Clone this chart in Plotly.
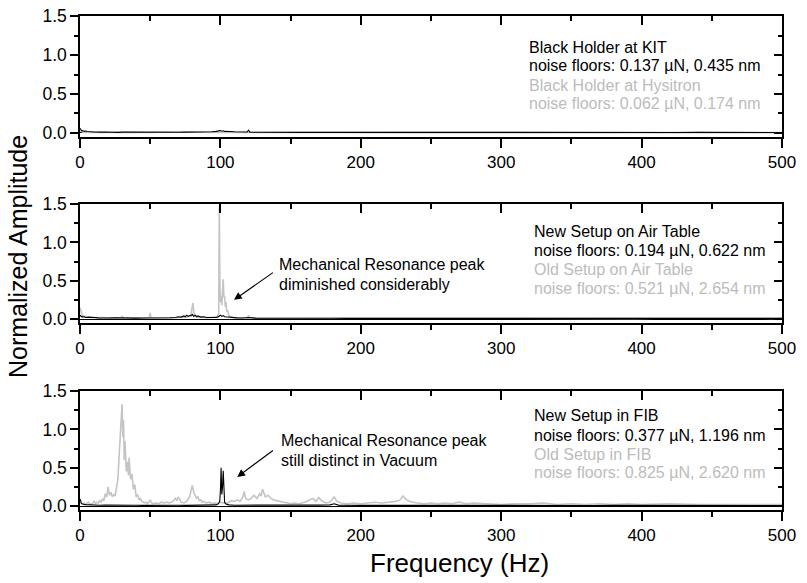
import plotly.graph_objects as go

# ---------------- data ----------------
# Panel 1: Black holder
freq_kit = [0, 0.5, 1, 1.5, 2, 3, 4, 5, 6, 8, 10, 12, 15, 18, 21, 24, 27, 30, 35, 40,
            45, 50, 55, 60, 65, 70, 75, 80, 85, 90, 94, 97, 99, 100, 101, 102, 103, 105, 107, 110,
            114, 117, 119, 120, 121, 123, 127, 132, 140, 150, 160, 170, 180, 190, 200,
            215, 230, 245, 260, 275, 290, 305, 320, 335, 350, 365, 380, 395, 410, 425,
            440, 455, 470, 485, 500]
amp_kit = [0.06, 0.04, 0.035, 0.025, 0.03, 0.02, 0.025, 0.018, 0.02, 0.015,
           0.012, 0.015, 0.01, 0.012, 0.009, 0.011, 0.008, 0.01, 0.009, 0.011,
           0.008, 0.01, 0.009, 0.008, 0.01, 0.009, 0.011, 0.01, 0.012, 0.01,
           0.015, 0.02, 0.025, 0.03, 0.022, 0.028, 0.02, 0.022, 0.018, 0.015,
           0.012, 0.01, 0.012, 0.035, 0.01, 0.009, 0.008, 0.009, 0.008, 0.009,
           0.007, 0.008, 0.009, 0.007, 0.008, 0.007, 0.008, 0.007, 0.008, 0.007,
           0.006, 0.007, 0.008, 0.006, 0.007, 0.006, 0.007, 0.006, 0.007, 0.006,
           0.007, 0.006, 0.007, 0.006, 0.006]
freq_hys = [0, 1, 2, 5, 10, 20, 50, 60, 100, 120, 180, 240, 300, 360, 420, 500]
amp_hys = [0.03, 0.015, 0.01, 0.008, 0.006, 0.005, 0.008, 0.012, 0.006, 0.008,
           0.005, 0.004, 0.005, 0.004, 0.004, 0.004]

# Panel 2: Air table
freq_old_air = [0, 0.5, 1, 1.5, 2, 3, 4, 5, 7, 9, 12, 15, 18, 21, 24,
                27, 29.5, 30, 30.5, 33, 36, 40, 44, 48, 49.5, 50, 50.5, 53, 57, 61,
                65, 69, 72, 75, 78, 79, 79.5, 80, 80.5, 81, 82, 84, 87, 90, 93,
                96, 98, 98.8, 99.2, 99.6, 100, 100.5, 101, 101.5, 102, 102.5, 103, 103.5, 104, 104.5,
                105, 106, 107, 109, 112, 115, 118, 119.5, 120, 120.5, 124, 130, 140, 150, 160,
                170, 180, 190, 200, 215, 230, 245, 260, 275, 290, 305, 320, 335, 350, 365,
                380, 395, 410, 425, 440, 455, 470, 485, 500]
amp_old_air = [0.15, 0.11, 0.07, 0.05, 0.045, 0.035, 0.03, 0.025, 0.022, 0.02,
               0.018, 0.016, 0.017, 0.015, 0.016, 0.014, 0.02, 0.04, 0.015, 0.014,
               0.013, 0.015, 0.013, 0.014, 0.02, 0.08, 0.02, 0.014, 0.013, 0.015,
               0.014, 0.016, 0.02, 0.025, 0.035, 0.06, 0.12, 0.2, 0.21, 0.09,
               0.04, 0.025, 0.02, 0.018, 0.02, 0.022, 0.03, 0.08, 1.47, 0.5,
               0.22, 0.3, 0.18, 0.35, 0.52, 0.28, 0.3, 0.16, 0.22, 0.1,
               0.12, 0.05, 0.035, 0.02, 0.018, 0.015, 0.014, 0.016, 0.05, 0.016,
               0.014, 0.013, 0.012, 0.013, 0.011, 0.012, 0.011, 0.012, 0.01, 0.011,
               0.01, 0.011, 0.01, 0.011, 0.01, 0.009, 0.01, 0.009, 0.01, 0.009,
               0.01, 0.009, 0.01, 0.009, 0.009, 0.009, 0.009, 0.009, 0.009]
freq_new_air = [0, 0.5, 1, 1.5, 2, 3, 4, 6, 8, 10, 13, 16, 20, 25, 30, 35, 40, 45, 50, 55,
                60, 64, 68, 70, 72, 74, 75, 76, 77, 78, 79, 80, 81, 82, 83, 84, 86, 88, 90, 93,
                96, 98, 99, 100, 101, 102, 103, 105, 108, 112, 116, 120, 125, 130, 140,
                150, 160, 170, 180, 190, 200, 215, 230, 245, 260, 275, 290, 305, 320, 335,
                350, 365, 380, 395, 410, 425, 440, 455, 470, 485, 500]
amp_new_air = [0.05, 0.04, 0.03, 0.035, 0.025, 0.03, 0.02, 0.025, 0.018, 0.02,
               0.015, 0.018, 0.014, 0.016, 0.013, 0.015, 0.012, 0.014, 0.013, 0.012,
               0.014, 0.016, 0.02, 0.03, 0.025, 0.04, 0.03, 0.05, 0.035, 0.045,
               0.04, 0.06, 0.035, 0.05, 0.03, 0.04, 0.025, 0.03, 0.02, 0.018,
               0.02, 0.025, 0.04, 0.05, 0.035, 0.045, 0.03, 0.025, 0.018, 0.015,
               0.013, 0.02, 0.012, 0.011, 0.01, 0.011, 0.01, 0.009, 0.01, 0.009,
               0.01, 0.009, 0.008, 0.009, 0.008, 0.009, 0.008, 0.009, 0.008, 0.009,
               0.008, 0.009, 0.008, 0.008, 0.009, 0.008, 0.008, 0.009, 0.008, 0.008,
               0.008]

# Panel 3: FIB
freq_old_fib = [0, 0.5, 1, 2, 3, 4, 5, 6, 7, 8, 9, 10, 11, 12, 13, 14, 15, 16, 17, 18,
                19, 20, 21, 22, 23, 24, 25, 26, 27, 28, 29, 30, 30.5, 31, 31.5,
                32, 33, 34, 34.5, 35, 36, 37, 38, 39, 40, 41, 42, 43, 44, 45,
                46, 47, 48, 49, 50, 51, 52, 54, 56, 58, 60, 62, 64, 66, 68,
                69, 70, 71, 72, 74, 76, 78, 79, 80, 81, 82, 83, 84, 85, 86,
                87, 88, 90, 92, 94, 96, 98, 100, 102, 104, 106, 108, 110, 112, 114,
                116, 117, 118, 120, 122, 124, 126, 128, 129, 130, 131, 132, 134, 136, 138,
                140, 142, 145, 148, 150, 153, 156, 160, 163, 166, 168, 170, 172, 175, 178,
                181, 183, 186, 190, 195, 200, 205, 210, 215, 220, 225, 228, 230, 232, 235,
                240, 245, 250, 255, 260, 265, 270, 275, 280, 290, 300, 310, 320, 330, 340,
                350, 360, 370, 380, 390, 400, 420, 440, 460, 480, 500]
amp_old_fib = [0.10, 0.05, 0.03, 0.02, 0.04, 0.02, 0.03, 0.05, 0.03, 0.02,
               0.04, 0.06, 0.03, 0.05, 0.04, 0.07, 0.05, 0.09, 0.07, 0.16,
               0.12, 0.25, 0.14, 0.18, 0.12, 0.15, 0.13, 0.22, 0.35, 0.7,
               1.0, 1.33, 0.9, 1.12, 0.6, 0.85, 0.45, 0.58, 0.4, 0.63,
               0.35, 0.42, 0.22, 0.28, 0.12, 0.15, 0.08, 0.1, 0.06, 0.05,
               0.04, 0.05, 0.03, 0.05, 0.08, 0.04, 0.03, 0.04, 0.03, 0.05,
               0.04, 0.05, 0.04, 0.06, 0.1, 0.07, 0.12, 0.09, 0.05, 0.04,
               0.06, 0.12, 0.2, 0.27, 0.18, 0.14, 0.1, 0.12, 0.07, 0.08,
               0.05, 0.06, 0.04, 0.05, 0.03, 0.04, 0.03, 0.05, 0.04, 0.03,
               0.05, 0.07, 0.06, 0.08, 0.06, 0.12, 0.19, 0.1, 0.08, 0.1,
               0.14, 0.1, 0.16, 0.13, 0.22, 0.18, 0.12, 0.14, 0.1, 0.08,
               0.07, 0.06, 0.05, 0.04, 0.03, 0.04, 0.03, 0.05, 0.07, 0.1,
               0.06, 0.11, 0.07, 0.04, 0.05, 0.12, 0.06, 0.04, 0.03, 0.04,
               0.03, 0.04, 0.05, 0.04, 0.05, 0.06, 0.08, 0.13, 0.09, 0.06,
               0.04, 0.03, 0.04, 0.03, 0.04, 0.03, 0.05, 0.03, 0.04, 0.03,
               0.02, 0.03, 0.03, 0.04, 0.02, 0.03, 0.02, 0.03, 0.02, 0.03,
               0.02, 0.03, 0.02, 0.02, 0.02, 0.02]
freq_new_fib = [0, 0.5, 1, 1.5, 2, 3, 4, 6, 8, 10, 14, 18, 22, 26, 30, 35, 40, 45, 50, 55,
                60, 65, 70, 75, 80, 85, 90, 94, 97, 98.5, 99.5, 100, 100.5, 101, 101.5,
                102, 102.5, 103, 104, 106, 110, 120, 130, 140, 150, 160, 170, 178, 181, 184,
                190, 200, 215, 230, 245, 260, 275, 290, 305, 320, 335, 350, 365, 380, 395,
                410, 425, 440, 455, 470, 485, 500]
amp_new_fib = [0.09, 0.05, 0.035, 0.03, 0.025, 0.02, 0.018, 0.015, 0.014, 0.012,
               0.011, 0.012, 0.01, 0.011, 0.01, 0.011, 0.01, 0.009, 0.011, 0.009,
               0.01, 0.009, 0.01, 0.009, 0.01, 0.009, 0.01, 0.012, 0.015, 0.03,
               0.06, 0.2, 0.5, 0.15, 0.25, 0.46, 0.12, 0.05, 0.025, 0.015,
               0.011, 0.01, 0.009, 0.01, 0.009, 0.01, 0.012, 0.015, 0.03, 0.012,
               0.009, 0.008, 0.009, 0.008, 0.009, 0.008, 0.009, 0.008, 0.008, 0.009,
               0.008, 0.008, 0.007, 0.008, 0.007, 0.008, 0.007, 0.008, 0.007, 0.007,
               0.007, 0.007]

for f, a in [(freq_kit, amp_kit), (freq_hys, amp_hys), (freq_old_air, amp_old_air),
             (freq_new_air, amp_new_air), (freq_old_fib, amp_old_fib), (freq_new_fib, amp_new_fib)]:
    assert len(f) == len(a), (len(f), len(a))

legend_black = [
    ["Black Holder at KIT", "noise floors: 0.137 µN, 0.435 nm"],
    ["New Setup on Air Table", "noise floors: 0.194 µN, 0.622 nm"],
    ["New Setup in FIB", "noise floors: 0.377 µN, 1.196 nm"],
]
legend_grey = [
    ["Black Holder at Hysitron", "noise floors: 0.062 µN, 0.174 nm"],
    ["Old Setup on Air Table", "noise floors: 0.521 µN, 2.654 nm"],
    ["Old Setup in FIB", "noise floors: 0.825 µN, 2.620 nm"],
]
x_ticks = [0, 100, 200, 300, 400, 500]
y_ticks = [0.0, 0.5, 1.0, 1.5]

# ---------------- figure ----------------
W, H = 807, 583
BLACK = "#000000"
GREY = "#c4c4c4"
TGREY = "#bcbcbc"
FONT = "Liberation Sans, Arial, sans-serif"

fig = go.Figure()

panels = [
    (freq_hys, amp_hys, freq_kit, amp_kit),
    (freq_old_air, amp_old_air, freq_new_air, amp_new_air),
    (freq_old_fib, amp_old_fib, freq_new_fib, amp_new_fib),
]
# plot area pixel bounds (top, bottom)
panel_px = [(16, 137), (204, 323), (391, 510)]
x_px = (80, 782)
YR = [-0.052, 1.502]


def py(p):
    return 1 - p / H


for i, (fg, ag, fb, ab) in enumerate(panels, start=1):
    xs = "x" if i == 1 else f"x{i}"
    ys = "y" if i == 1 else f"y{i}"
    fig.add_trace(go.Scatter(x=fg, y=ag, mode="lines", line=dict(color=GREY, width=1.6),
                             xaxis=xs, yaxis=ys, showlegend=False, hoverinfo="skip"))
    fig.add_trace(go.Scatter(x=fb, y=ab, mode="lines", line=dict(color=BLACK, width=1.1),
                             xaxis=xs, yaxis=ys, showlegend=False, hoverinfo="skip"))
    # dummy traces so the mirrored (top/right) axes exist
    fig.add_trace(go.Scatter(x=[None], y=[None], xaxis=f"x{i+3}", yaxis=ys,
                             showlegend=False, hoverinfo="skip"))
    fig.add_trace(go.Scatter(x=[None], y=[None], xaxis=xs, yaxis=f"y{i+3}",
                             showlegend=False, hoverinfo="skip"))

    top, bot = panel_px[i - 1]
    ydom = [py(bot), py(top)]
    xdom = [x_px[0] / W, x_px[1] / W]
    xn = "xaxis" if i == 1 else f"xaxis{i}"
    yn = "yaxis" if i == 1 else f"yaxis{i}"
    fig.update_layout(**{
        xn: dict(domain=xdom, range=[0, 500], anchor=ys, tickvals=x_ticks, automargin=False,
                 ticks="outside", ticklen=9, tickwidth=1.5, tickcolor=BLACK,
                 showline=True, linewidth=1.5, linecolor=BLACK, showgrid=False, zeroline=False,
                 minor=dict(ticks="outside", tickvals=[50, 150, 250, 350, 450], ticklen=5,
                            tickwidth=1.5, tickcolor=BLACK, showgrid=False),
                 tickfont=dict(size=17, family=FONT, color=BLACK)),
        yn: dict(domain=ydom, range=YR, anchor=xs, tickvals=y_ticks, tickformat=".1f",
                 automargin=False,
                 ticks="outside", ticklen=8, tickwidth=1.5, tickcolor=BLACK,
                 showline=True, linewidth=1.5, linecolor=BLACK, showgrid=False,
                 zeroline=True, zerolinecolor=BLACK, zerolinewidth=1,
                 minor=dict(ticks="outside", tickvals=[0.25, 0.75, 1.25], ticklen=4,
                            tickwidth=1.5, tickcolor=BLACK, showgrid=False),
                 tickfont=dict(size=17.5, family=FONT, color=BLACK)),
        f"xaxis{i+3}": dict(overlaying=xs, side="top", anchor=ys, range=[0, 500],
                            automargin=False,
                            tickvals=x_ticks, ticks="inside", ticklen=9, tickwidth=1.5,
                            tickcolor=BLACK, showticklabels=False, showline=True, linewidth=1.5,
                            linecolor=BLACK, showgrid=False, zeroline=False,
                            minor=dict(ticks="inside", tickvals=[50, 150, 250, 350, 450],
                                       ticklen=5, tickwidth=1.5, tickcolor=BLACK, showgrid=False)),
        f"yaxis{i+3}": dict(overlaying=ys, side="right", anchor=xs, range=YR,
                            automargin=False,
                            tickvals=y_ticks, ticks="inside", ticklen=8, tickwidth=1.5,
                            tickcolor=BLACK, showticklabels=False, showline=True, linewidth=1.5,
                            linecolor=BLACK, showgrid=False, zeroline=False,
                            minor=dict(ticks="inside", tickvals=[0.25, 0.75, 1.25],
                                       ticklen=4, tickwidth=1.5, tickcolor=BLACK, showgrid=False)),
    })

# legend-like texts (one annotation per line)
text_left = [527, 532, 532]
text_lines_px = [(46.7, 64.7, 84.2, 102.5), (230.8, 249.2, 268.8, 287.2), (414.7, 434.7, 453.7, 471.3)]
for k in range(3):
    lines = legend_black[k] + legend_grey[k]
    cols = [BLACK, BLACK, TGREY, TGREY]
    for t, c, ypx in zip(lines, cols, text_lines_px[k]):
        fig.add_annotation(x=text_left[k] / W, y=py(ypx + 1), xref="paper", yref="paper",
                           text=t, showarrow=False, xanchor="left", yanchor="middle",
                           font=dict(size=16, family=FONT, color=c))

# arrow notes
notes = [
    (2, ["Mechanical Resonance peak", "diminished considerably"], (263.5, 283), 277,
     (109.7, 0.25), (138.5, 0.62)),
    (3, ["Mechanical Resonance peak", "still distinct in Vacuum"], (439, 459), 279,
     (112.0, 0.38), (138.5, 0.74)),
]
for i, lines, ys_px, xl, head, tail in notes:
    for t, ypx in zip(lines, ys_px):
        fig.add_annotation(x=xl / W, y=py(ypx + 1), xref="paper", yref="paper", text=t,
                           showarrow=False, xanchor="left", yanchor="middle",
                           font=dict(size=16, family=FONT, color=BLACK))
    fig.add_annotation(x=head[0], y=head[1], xref=f"x{i}", yref=f"y{i}",
                       ax=tail[0], ay=tail[1], axref=f"x{i}", ayref=f"y{i}",
                       text="", showarrow=True, arrowhead=2, arrowsize=1.4, arrowwidth=1.1,
                       arrowcolor=BLACK)

# axis titles
fig.add_annotation(x=18 / W, y=py(257), xref="paper", yref="paper", text="Normalized Amplitude",
                   textangle=-90, showarrow=False, xanchor="center", yanchor="middle",
                   font=dict(size=25, family=FONT, color=BLACK))
fig.add_annotation(x=459 / W, y=py(563), xref="paper", yref="paper", text="Frequency (Hz)",
                   showarrow=False, xanchor="center", yanchor="middle",
                   font=dict(size=26, family=FONT, color=BLACK))

fig.update_layout(width=W, height=H, margin=dict(l=0, r=0, t=0, b=0, autoexpand=False),
                  plot_bgcolor="white", paper_bgcolor="white", showlegend=False,
                  font=dict(family=FONT, size=17, color=BLACK))

fig.write_html("out.html")
